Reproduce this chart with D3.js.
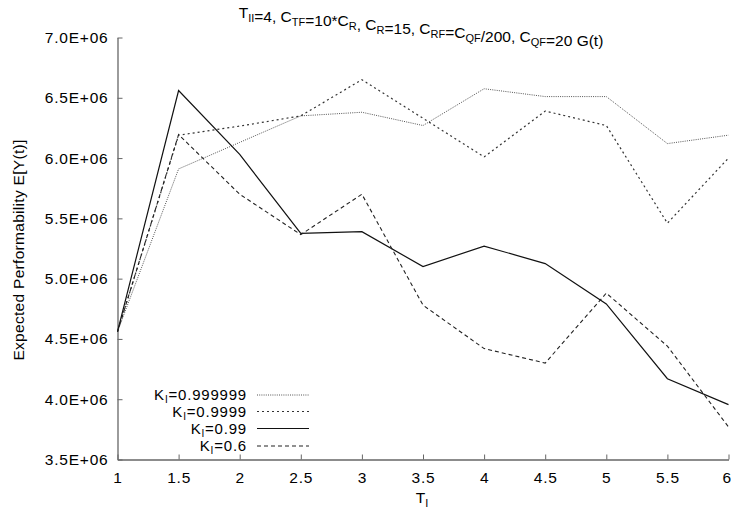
<!DOCTYPE html>
<html><head><meta charset="utf-8">
<script src="https://cdn.jsdelivr.net/npm/d3@7"></script>
<style>
body{margin:0;background:#fff;}
text{font-family:"Liberation Sans",Arial,sans-serif;fill:#000;}
</style></head>
<body>
<svg id="c" width="731" height="514"></svg>
<script>
const tValues = [1, 1.5, 2, 2.5, 3, 3.5, 4, 4.5, 5, 5.5, 6];
const seriesNames = ["0.999999", "0.9999", "0.99", "0.6"];
const kI_0999999 = [4.56e6, 5.91e6, 6.13e6, 6.35e6, 6.38e6, 6.27e6, 6.575e6, 6.51e6, 6.51e6, 6.12e6, 6.19e6];
const kI_09999   = [4.56e6, 6.19e6, 6.265e6, 6.35e6, 6.65e6, 6.33e6, 6.01e6, 6.39e6, 6.27e6, 5.46e6, 6.0e6];
const kI_099     = [4.56e6, 6.56e6, 6.03e6, 5.375e6, 5.39e6, 5.10e6, 5.27e6, 5.125e6, 4.79e6, 4.17e6, 3.955e6];
const kI_06      = [4.56e6, 6.195e6, 5.70e6, 5.365e6, 5.70e6, 4.78e6, 4.42e6, 4.30e6, 4.88e6, 4.44e6, 3.77e6];
const yTicks = [3.5e6, 4.0e6, 4.5e6, 5.0e6, 5.5e6, 6.0e6, 6.5e6, 7.0e6];
const xTicks = [1, 1.5, 2, 2.5, 3, 3.5, 4, 4.5, 5, 5.5, 6];

const series = [
  {name: seriesNames[0], values: kI_0999999, dash: "1,1.2", color: "#555", width: 1},
  {name: seriesNames[1], values: kI_09999, dash: "2,3", color: "#333", width: 1.2},
  {name: seriesNames[2], values: kI_099, dash: null, color: "#111", width: 1.2},
  {name: seriesNames[3], values: kI_06, dash: "4,3", color: "#222", width: 1.1}
];

const FS = 15.5, LS = 0.8;
const svg = d3.select("#c");
const x = d3.scaleLinear().domain([1, 6]).range([117.5, 728.5]);
const y = d3.scaleLinear().domain([3.5e6, 7.0e6]).range([459.5, 37.5]);

// axes
const xAxis = svg.append("g").attr("transform", "translate(0,459.5)")
  .call(d3.axisBottom(x).tickValues(xTicks).tickSizeInner(-5).tickSizeOuter(0).tickPadding(12)
    .tickFormat(d => String(d)));
const yAxis = svg.append("g").attr("transform", "translate(117.5,0)")
  .call(d3.axisLeft(y).tickValues(yTicks).tickSizeInner(-5).tickSizeOuter(0).tickPadding(9)
    .tickFormat(d => (d/1e6).toFixed(1) + "E+06"));
[xAxis, yAxis].forEach(g => {
  g.select(".domain").attr("stroke", "#666").attr("stroke-width", 1.3);
  g.selectAll(".tick line").attr("stroke", "#666").attr("stroke-width", 1);
  g.selectAll(".tick text").attr("font-size", FS).attr("fill", "#000").attr("letter-spacing", LS)
   .style("font-family", "'Liberation Sans', Arial, sans-serif");
});
xAxis.selectAll(".tick text").filter(d => d === 6).attr("text-anchor", "end").attr("dx", 3);

// lines
const line = d3.line().x((d, i) => x(tValues[i])).y(d => y(d));
series.forEach(s => {
  svg.append("path").datum(s.values).attr("d", line)
    .attr("fill", "none").attr("stroke", s.color).attr("stroke-width", s.width)
    .attr("stroke-dasharray", s.dash);
});

// legend
const legY = [395, 411.5, 428.5, 446];
series.forEach((s, i) => {
  const t = svg.append("text").attr("x", 247).attr("y", legY[i] + 5).attr("text-anchor", "end")
    .attr("font-size", 15).attr("letter-spacing", LS);
  t.append("tspan").text("K");
  t.append("tspan").attr("font-size", 10).attr("dy", 3).text("I");
  t.append("tspan").attr("dy", -3).text("=" + s.name);
  svg.append("line").attr("x1", 257).attr("x2", 309).attr("y1", legY[i]).attr("y2", legY[i])
    .attr("stroke", s.color).attr("stroke-width", s.width).attr("stroke-dasharray", s.dash);
});

// title
const title = svg.append("text").attr("x", 421).attr("y", 18).attr("text-anchor", "middle").attr("font-size", 15.5);
const parts = [["T","II"],["=4, C","TF"],["=10*C","R"],[", C","R"],["=15, C","RF"],["=C","QF"],["/200, C","QF"],["=20 G(t)",null]];
parts.forEach(([m, s]) => {
  title.append("tspan").text(m);
  if (s) {
    title.append("tspan").attr("font-size", 11).attr("dy", 4).text(s);
    title.append("tspan").attr("dy", -4).text("");
  }
});

// x label
const xl = svg.append("text").attr("x", 422).attr("y", 503).attr("text-anchor", "middle").attr("font-size", FS);
xl.append("tspan").text("T");
xl.append("tspan").attr("font-size", 11).attr("dy", 4).text("I");

// y label
svg.append("text").attr("transform", "translate(24,250) rotate(-90)").attr("text-anchor", "middle")
  .attr("font-size", FS).attr("letter-spacing", 0.3).text("Expected Performability E[Y(t)]");
</script>
</body></html>
